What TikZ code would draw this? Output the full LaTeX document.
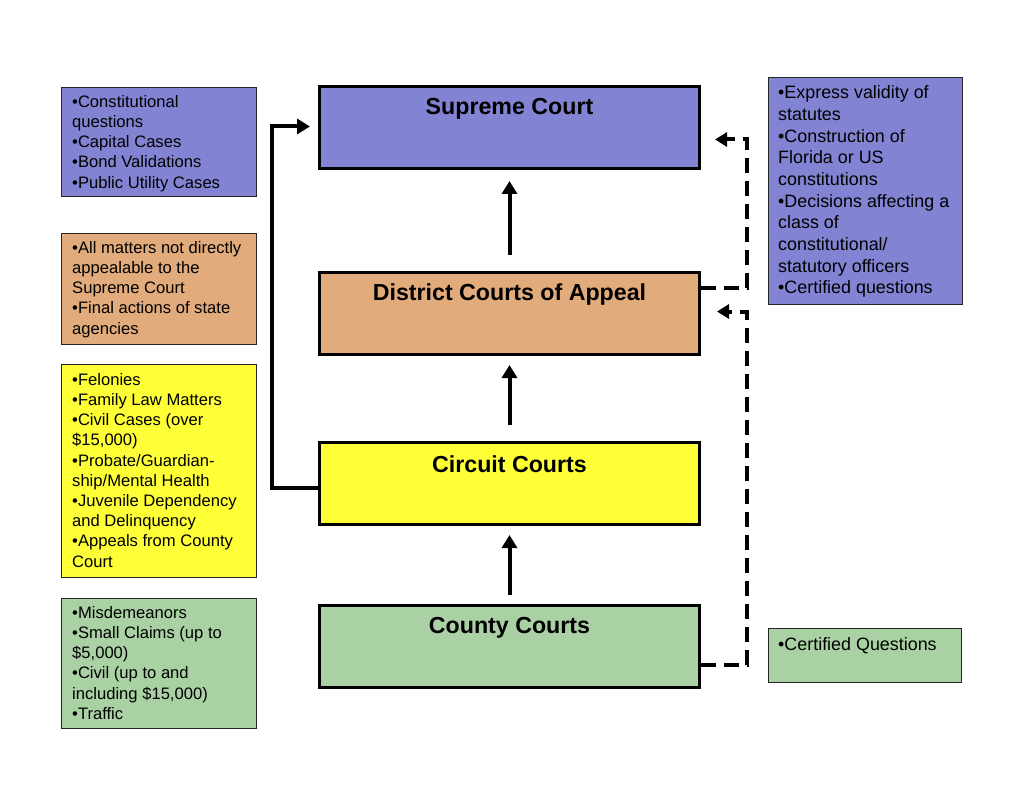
\documentclass[tikz,border=0pt]{standalone}
\usepackage{fontspec}
\setmainfont{Liberation Sans}
\usetikzlibrary{arrows.meta,calc}
\definecolor{cblue}{HTML}{8383D3}
\definecolor{corange}{HTML}{E2AB7C}
\definecolor{cyellow}{HTML}{FFFF38}
\definecolor{cgreen}{HTML}{A9D1A3}
\tikzset{
  court/.style={draw=black,line width=3pt,minimum width=380pt,minimum height=82pt,inner sep=0pt,anchor=north west},
  infobox/.style={draw=black!85,line width=1pt,inner sep=0pt,anchor=north west},
  infotext/.style={anchor=north west,inner sep=0pt,align=left,font=\fontsize{16.6}{20.2}\selectfont},
  infotextR/.style={anchor=north west,inner sep=0pt,align=left,font=\fontsize{17.9}{21.7}\selectfont},
  title/.style={font=\fontsize{23.2}{26}\selectfont\bfseries,inner sep=0pt},
  uparrow/.style={line width=4pt,-{Triangle[length=13pt,width=15pt]}},
  dasharrow/.style={line width=4pt,dash pattern=on 15pt off 8pt,-{Triangle[length=12pt,width=14pt]}},
}
\begin{document}
\begin{tikzpicture}[x=1pt,y=-1pt]
\useasboundingbox (0,0) rectangle (1024,791);
% main courts
\node[court,fill=cblue] (sup) at (318,85) {};
\node[court,fill=corange] (dca) at (318,271) {};
\node[court,fill=cyellow] (cir) at (318,441) {};
\node[court,fill=cgreen] (cty) at (318,604) {};
\node[title] (supt) at ($(sup.north)+(0,23.5)$) {Supreme Court};
\node[title] (dcat) at ($(dca.north)+(0,23.5)$) {District Courts of Appeal};
\node[title] (cirt) at ($(cir.north)+(0,23.5)$) {Circuit Courts};
\node[title] (ctyt) at ($(cty.north)+(0,23.5)$) {County Courts};
% left info boxes
\node[infobox,fill=cblue,minimum width=195pt,minimum height=109pt] (b1) at (61,87) {};
\node[infobox,fill=corange,minimum width=195pt,minimum height=111pt] (b2) at (61,233) {};
\node[infobox,fill=cyellow,minimum width=195pt,minimum height=213pt] (b3) at (61,364) {};
\node[infobox,fill=cgreen,minimum width=195pt,minimum height=130pt] (b4) at (61,598) {};
% right info boxes
\node[infobox,fill=cblue,minimum width=194pt,minimum height=227pt] (r1) at (768,77) {};
\node[infobox,fill=cgreen,minimum width=193pt,minimum height=54pt] (r2) at (768,628) {};
% texts
\node[infotext] (t1) at ($(b1.north west)+(11,8)$) {•Constitutional\\questions\\•Capital Cases\\•Bond Validations\\•Public Utility Cases};
\node[infotext] (t2) at ($(b2.north west)+(11,8)$) {•All matters not directly\\appealable to the\\Supreme Court\\•Final actions of state\\agencies};
\node[infotext] (t3) at ($(b3.north west)+(11,9)$) {•Felonies\\•Family Law Matters\\•Civil Cases (over\\\$15,000)\\•Probate/Guardian-\\ship/Mental Health\\•Juvenile Dependency\\and Delinquency\\•Appeals from County\\Court};
\node[infotext] (t4) at ($(b4.north west)+(11,8)$) {•Misdemeanors\\•Small Claims (up to\\\$5,000)\\•Civil (up to and\\including \$15,000)\\•Traffic};
\node[infotextR] (t5) at ($(r1.north west)+(10,8.5)$) {•Express validity of\\statutes\\•Construction of\\Florida or US\\constitutions\\•Decisions affecting a\\class of\\constitutional/\\statutory officers\\•Certified questions};
\node[infotextR] (t6) at ($(r2.north west)+(10,9)$) {•Certified Questions};
% vertical arrows
\draw[uparrow,shorten <=16pt,shorten >=11pt] (dca.north) -- (sup.south);
\draw[uparrow,shorten <=16pt,shorten >=9pt] (cir.north) -- (dca.south);
\draw[uparrow,shorten <=9pt,shorten >=9pt] (cty.north) -- (cir.south);
% left solid connector
\coordinate (lc) at ($(cir.west)+(-46,4)$);
\draw[uparrow,shorten >=8pt] ($(cir.west)+(0,4)$) -- (lc) |- ($(sup.west)+(0,-1)$);
% right dashed connectors
\coordinate (rc1) at ($(dca.east)+(46,-25)$);
\draw[dasharrow,shorten >=14pt] ($(dca.east)+(0,-25)$) -- (rc1) |- ($(sup.east)+(0,12)$);
\coordinate (rc2) at ($(cty.east)+(46,18)$);
\draw[dasharrow,shorten >=16pt] ($(cty.east)+(0,18)$) -- (rc2) |- ($(dca.east)+(0,-2)$);
\end{tikzpicture}
\end{document}
